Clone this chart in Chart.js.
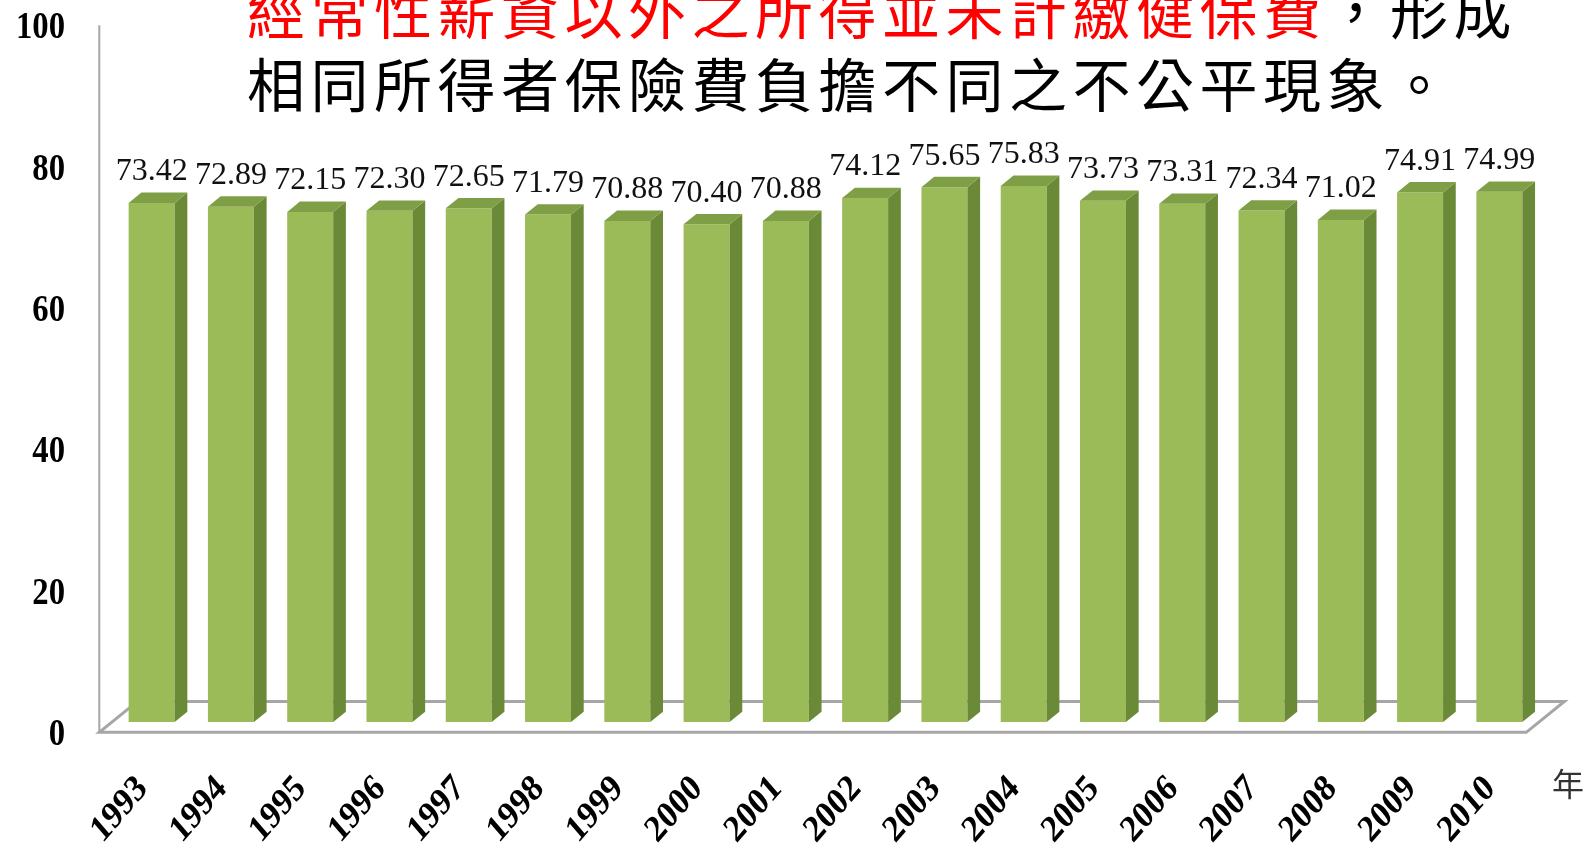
<!DOCTYPE html>
<html>
<head>
<meta charset="utf-8">
<title>Chart</title>
<script src="https://cdn.jsdelivr.net/npm/chart.js@4/dist/chart.umd.min.js"></script>
<style>
  html, body { margin: 0; padding: 0; background: #fff; }
  #wrap { width: 1593px; height: 844px; position: relative; }
</style>
</head>
<body>
<div id="wrap"><canvas id="chart"></canvas></div>
<script>
// Yearly values
const years = ['1993', '1994', '1995', '1996', '1997', '1998', '1999', '2000', '2001',
               '2002', '2003', '2004', '2005', '2006', '2007', '2008', '2009', '2010'];
const values = [73.42, 72.89, 72.15, 72.30, 72.65, 71.79, 70.88, 70.40, 70.88,
                74.12, 75.65, 75.83, 73.73, 73.31, 72.34, 71.02, 74.91, 74.99];
const yTicks = [0, 20, 40, 60, 80, 100];

// Heading text (first part of line one is highlighted)
const headRed = '經常性薪資以外之所得並未計繳健保費';
const headBlack1 = '，形成';
const headLine2 = '相同所得者保險費負擔不同之不公平現象。';
const unitLabel = '年';

// One step of 3D depth (bar thickness); the floor is three steps deep
const depth = { dx: 12.7, dy: -10.3 };

const colors = {
    front: '#9bbb59',
    top: '#7f9f46',
    side: '#6b8a37',
    axis: '#a6a6a6'
};

const serif = "'Liberation Serif', 'Times New Roman', serif";
const cjk = "'Noto Sans CJK TC', 'Noto Sans CJK SC', sans-serif";
// axis numbers are set a little narrow
const squeeze = 0.86;

const bars3d = {
    id: 'bars3d',

    // floor parallelogram and left edge, behind the bars
    beforeDatasetsDraw(chart) {
        const { ctx, chartArea } = chart;
        const y = chart.scales.y;
        const base = y.getPixelForValue(0);
        const top = y.getPixelForValue(100);
        const fx = chartArea.left - depth.dx, fy = base - depth.dy;
        const fx2 = chartArea.right - depth.dx;
        const bx = chartArea.left + 2 * depth.dx, by = base + 2 * depth.dy;
        const bx2 = chartArea.right + 2 * depth.dx;

        ctx.save();
        ctx.strokeStyle = colors.axis;
        ctx.lineWidth = 3;
        ctx.beginPath();
        ctx.moveTo(fx, fy);
        ctx.lineTo(fx2, fy);
        ctx.lineTo(bx2, by);
        ctx.lineTo(bx, by);
        ctx.closePath();
        ctx.stroke();

        ctx.lineWidth = 2;
        ctx.beginPath();
        ctx.moveTo(fx, top - depth.dy);
        ctx.lineTo(fx, fy);
        ctx.stroke();
        ctx.restore();
    },

    // side and top faces of each bar, then value labels
    afterDatasetsDraw(chart) {
        const { ctx } = chart;
        const meta = chart.getDatasetMeta(0);
        ctx.save();
        meta.data.forEach((bar, i) => {
            const l = bar.x - bar.width / 2;
            const r = bar.x + bar.width / 2;
            const t = bar.y, b = bar.base;

            ctx.fillStyle = colors.side;
            ctx.beginPath();
            ctx.moveTo(r, t);
            ctx.lineTo(r + depth.dx, t + depth.dy);
            ctx.lineTo(r + depth.dx, b + depth.dy);
            ctx.lineTo(r, b);
            ctx.closePath();
            ctx.fill();

            ctx.fillStyle = colors.top;
            ctx.beginPath();
            ctx.moveTo(l, t);
            ctx.lineTo(l + depth.dx, t + depth.dy);
            ctx.lineTo(r + depth.dx, t + depth.dy);
            ctx.lineTo(r, t);
            ctx.closePath();
            ctx.fill();

            ctx.fillStyle = '#111';
            ctx.font = '32px ' + serif;
            ctx.textAlign = 'center';
            ctx.textBaseline = 'middle';
            ctx.fillText(values[i].toFixed(2), bar.x, t - 31);
        });
        ctx.restore();
    },

    // axis labels sit on the front plane; heading on top
    afterDraw(chart) {
        const { ctx } = chart;
        const x = chart.scales.x;
        const y = chart.scales.y;

        ctx.save();
        ctx.fillStyle = '#000';
        ctx.font = 'bold 38px ' + serif;
        ctx.textAlign = 'right';
        ctx.textBaseline = 'middle';
        yTicks.forEach(v => {
            ctx.save();
            ctx.translate(65, y.getPixelForValue(v) - depth.dy + 3);
            ctx.scale(squeeze, 1);
            ctx.fillText(String(v), 0, 0);
            ctx.restore();
        });

        ctx.font = 'bold 38px ' + serif;
        years.forEach((yr, i) => {
            ctx.save();
            ctx.translate(x.getPixelForValue(i) - 9, 783);
            ctx.scale(squeeze, 1);
            ctx.rotate(-Math.PI / 4);
            ctx.fillText(yr, 0, 0);
            ctx.restore();
        });

        ctx.fillStyle = '#333';
        ctx.font = '32px ' + cjk;
        ctx.textAlign = 'center';
        ctx.fillText(unitLabel, 1568, 784);

        // heading, fixed pitch per character
        const pitch = 63.5, x0 = 247;
        ctx.font = '58px ' + cjk;
        ctx.textAlign = 'left';
        const line1 = [...headRed].map(c => [c, '#ff0000'])
            .concat([...headBlack1].map(c => [c, '#000']));
        line1.forEach(([c, col], i) => {
            ctx.fillStyle = col;
            ctx.fillText(c, x0 + i * pitch, 12);
        });
        ctx.fillStyle = '#000';
        [...headLine2].forEach((c, i) => {
            ctx.fillText(c, x0 + i * pitch, 85);
        });
        ctx.restore();
    }
};

new Chart(document.getElementById('chart'), {
    type: 'bar',
    data: {
        labels: years,
        datasets: [{
            data: values,
            backgroundColor: colors.front,
            borderWidth: 0,
            categoryPercentage: 1.0,
            barPercentage: 0.58
        }]
    },
    options: {
        responsive: true,
        maintainAspectRatio: false,
        animation: false,
        layout: { padding: { left: 112, right: 54, top: 15, bottom: 122 } },
        plugins: {
            legend: { display: false },
            tooltip: { enabled: false }
        },
        scales: {
            x: { display: false },
            y: { display: false, min: 0, max: 100 }
        }
    },
    plugins: [bars3d]
});
</script>
</body>
</html>
